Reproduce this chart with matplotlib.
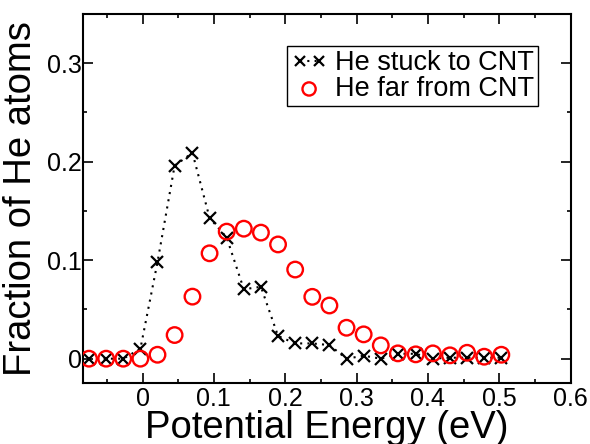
import matplotlib
matplotlib.use("Agg")
import matplotlib.pyplot as plt

plt.rcParams['font.family'] = ['Liberation Sans', 'DejaVu Sans']

# energy bins (eV)
energy = [-0.075, -0.051, -0.027, -0.003, 0.021, 0.045, 0.070, 0.094, 0.118,
          0.142, 0.166, 0.190, 0.214, 0.238, 0.262, 0.286, 0.310, 0.334,
          0.358, 0.383, 0.407, 0.431, 0.455, 0.479, 0.503]
stuck = [0.0, 0.0, 0.0, 0.010, 0.098, 0.196, 0.209, 0.143, 0.123,
         0.0705, 0.073, 0.023, 0.0155, 0.0155, 0.0138, 0.0, 0.003, 0.0,
         0.005, 0.005, 0.0, 0.001, 0.001, 0.001, 0.001]
far = [0.0, 0.0, 0.0, 0.0, 0.004, 0.024, 0.063, 0.107, 0.129,
       0.132, 0.128, 0.116, 0.0905, 0.0628, 0.054, 0.0314, 0.0247, 0.0135,
       0.0054, 0.0044, 0.0054, 0.0034, 0.006, 0.002, 0.004]

xticks = [0, 0.1, 0.2, 0.3, 0.4, 0.5, 0.6]
xticklabels = ["0", "0.1", "0.2", "0.3", "0.4", "0.5", "0.6"]
yticks = [0, 0.1, 0.2, 0.3]
yticklabels = ["0", "0.1", "0.2", "0.3"]

fig = plt.figure(figsize=(5.9, 4.44), dpi=100)
ax = fig.add_axes([0.1412, 0.1367, 0.8258, 0.8318])

ax.plot(energy, stuck, color="black", linestyle=(0, (1, 2.5)), linewidth=1.5,
        marker="x", markersize=8.5, markeredgewidth=1.6, label="He stuck to CNT")
ax.scatter(energy, far, s=125, facecolors="none", edgecolors="red",
           linewidths=1.7, label="He far from CNT", zorder=3)

ax.set_xlim(-0.083, 0.6)
ax.set_ylim(-0.025, 0.35)
ax.set_xticks(xticks)
ax.set_xticklabels(xticklabels)
ax.set_xticks([-0.05, 0.05, 0.15, 0.25, 0.35, 0.45, 0.55], minor=True)
ax.set_yticks(yticks)
ax.set_yticklabels(yticklabels)
ax.set_yticks([0.05, 0.15, 0.25], minor=True)

ax.tick_params(which="both", direction="in", top=True, right=True, width=1.2)
ax.tick_params(which="major", length=7, labelsize=18)
ax.tick_params(which="minor", length=3)
ax.tick_params(axis="x", pad=3)
ax.tick_params(axis="y", pad=1)
for s in ax.spines.values():
    s.set_linewidth(1.5)

ax.set_xlabel("Potential Energy (eV)", fontsize=27.5)
ax.set_ylabel("Fraction of He atoms", fontsize=27.5)
ax.xaxis.set_label_coords(0.5, -0.071)
ax.yaxis.set_label_coords(-0.09, 0.5)

leg = ax.legend(loc="upper right", bbox_to_anchor=(538 / 590, 1 - 46 / 444),
                bbox_transform=fig.transFigure, borderaxespad=0,
                fontsize=19.5, numpoints=2, scatterpoints=1, handlelength=1.3,
                handletextpad=0.3, labelspacing=0.0, borderpad=0.15,
                fancybox=False, framealpha=1, edgecolor="black",
                markerscale=0.85)
leg.get_frame().set_linewidth(1.0)

fig.savefig("out.png", dpi=100)
